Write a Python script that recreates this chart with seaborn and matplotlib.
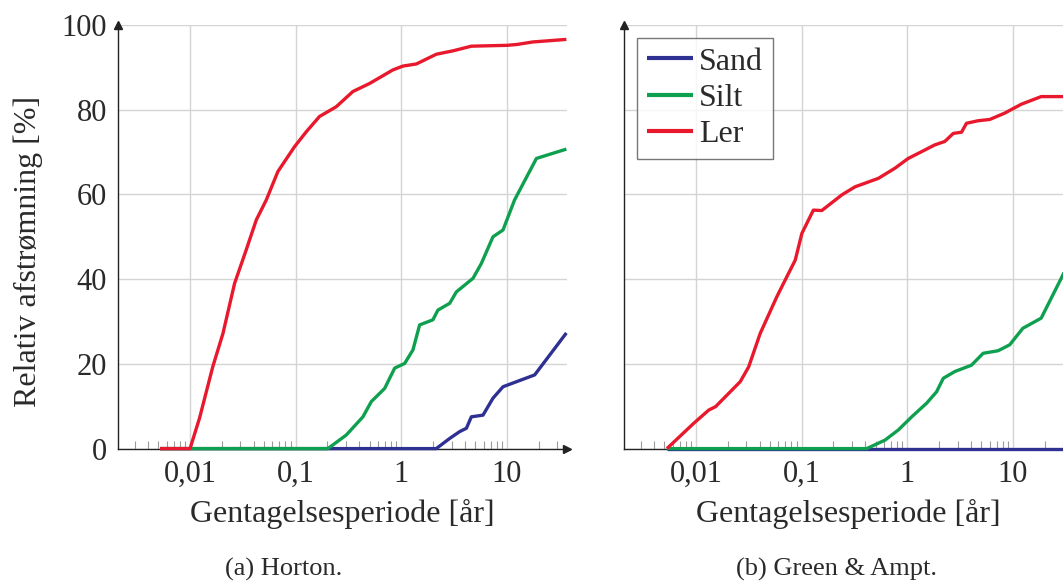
import numpy as np
import pandas as pd
import matplotlib
matplotlib.use('Agg')
import matplotlib.pyplot as plt
import matplotlib.ticker as mticker
import seaborn as sns

# ---------- data ----------
# (a) Horton
sand_x_h = [0.0052, 2.14, 2.87, 3.56, 4.13, 4.60, 5.93, 7.37, 9.17, 18.3, 36.5]
sand_y_h = [0, 0, 2.4, 4.0, 4.8, 7.5, 7.9, 11.9, 14.6, 17.4, 27.3]
silt_x_h = [0.0052, 0.2018, 0.301, 0.433, 0.520, 0.695, 0.865, 1.075, 1.288, 1.49,
            1.99, 2.22, 2.87, 3.32, 4.77, 5.72, 7.37, 9.17, 11.8, 19.0, 36.5]
silt_y_h = [0, 0, 3.2, 7.5, 11.1, 14.2, 19.0, 20.1, 23.3, 29.2,
            30.4, 32.7, 34.3, 37.0, 40.2, 43.7, 50.0, 51.6, 58.7, 68.5, 70.7]
ler_x_h = [0.0052, 0.0100, 0.0123, 0.0164, 0.0205, 0.0264, 0.0340, 0.0424, 0.0527,
           0.0678, 0.0977, 0.126, 0.168, 0.242, 0.348, 0.501, 0.832, 1.035, 1.387,
           2.145, 3.08, 4.60, 10.0, 12.4, 17.6, 36.5]
ler_y_h = [0, 0, 7.2, 19.3, 27.2, 39.0, 46.9, 54.0, 58.7,
           65.4, 71.3, 74.8, 78.4, 80.7, 84.3, 86.2, 89.4, 90.3, 90.8,
           93.1, 93.9, 95.0, 95.2, 95.4, 96.0, 96.6]

# (b) Green & Ampt
sand_x_g = [0.0053, 36.5]
sand_y_g = [0, 0]
silt_x_g = [0.0053, 0.413, 0.614, 0.822, 1.10, 1.52, 1.89, 2.19, 2.82, 4.05,
            5.22, 7.23, 9.31, 12.4, 18.5, 29.7, 36.5]
silt_y_g = [0, 0, 2.0, 4.4, 7.5, 10.7, 13.4, 16.6, 18.2, 19.7,
            22.5, 23.1, 24.5, 28.4, 30.8, 41.0, 46.0]
ler_x_g = [0.0053, 0.00953, 0.0132, 0.0153, 0.0262, 0.0315, 0.0405, 0.0583, 0.0752,
           0.0869, 0.1004, 0.129, 0.155, 0.240, 0.320, 0.532, 0.764, 1.02, 1.365,
           1.82, 2.26, 2.72, 3.26, 3.63, 4.68, 6.03, 8.35, 12.0, 18.5, 36.5]
ler_y_g = [0, 6.0, 9.1, 9.9, 15.8, 19.3, 27.2, 35.9, 41.4,
           44.5, 50.8, 56.3, 56.2, 59.9, 61.8, 63.8, 66.2, 68.5, 70.1,
           71.7, 72.5, 74.4, 74.7, 76.8, 77.4, 77.7, 79.2, 81.3, 83.1, 83.1]

jordtyper = ['Sand', 'Silt', 'Ler']
farver = {'Sand': '#2e3192', 'Silt': '#0fa04f', 'Ler': '#e8192c'}
xticks = [0.01, 0.1, 1, 10]
xticklabels = ['0,01', '0,1', '1', '10']
yticks = [0, 20, 40, 60, 80, 100]


def lav_df(serier):
    rows = []
    for navn, xs, ys in serier:
        for x, y in zip(xs, ys):
            rows.append({'jord': navn, 'periode': x, 'afstroemning': y})
    return pd.DataFrame(rows)


df_h = lav_df([('Sand', sand_x_h, sand_y_h), ('Silt', silt_x_h, silt_y_h), ('Ler', ler_x_h, ler_y_h)])
df_g = lav_df([('Sand', sand_x_g, sand_y_g), ('Silt', silt_x_g, silt_y_g), ('Ler', ler_x_g, ler_y_g)])

# ---------- style ----------
sns.set_style('white')
plt.rcParams['font.family'] = ['Liberation Serif', 'DejaVu Serif']

W, H = 1063, 584
fig = plt.figure(figsize=(W / 100, H / 100), dpi=100)
ax1 = fig.add_axes([118 / W, (H - 448.6) / H, 449 / W, 423.6 / H])
ax2 = fig.add_axes([624 / W, (H - 448.6) / H, 449 / W, 423.6 / H])

fs_tick = 22
fs_lab = 23
tekst = '#2a2a2a'

for ax, df, vis_legend in [(ax1, df_h, False), (ax2, df_g, True)]:
    sns.lineplot(data=df, x='periode', y='afstroemning', hue='jord', hue_order=jordtyper,
                 palette=farver, estimator=None, sort=False, linewidth=2.4,
                 legend=vis_legend, ax=ax)
    for ln in ax.lines:
        ln.set_clip_on(False)
        ln.set_zorder(3)
        ln.set_solid_capstyle('butt')
    ax.set_xscale('log')
    ax.set_xlim(0.00208, 37)
    ax.set_ylim(0, 100)
    ax.xaxis.set_major_locator(mticker.FixedLocator(xticks))
    ax.xaxis.set_major_formatter(mticker.FixedFormatter(xticklabels))
    ax.xaxis.set_minor_locator(mticker.LogLocator(base=10, subs=np.arange(2, 10), numticks=20))
    ax.xaxis.set_minor_formatter(mticker.NullFormatter())
    ax.set_yticks(yticks)
    ax.grid(True, which='major', color='#d4d4d4', linewidth=1.0)
    ax.tick_params(axis='x', which='major', direction='in', length=0, pad=8,
                   labelsize=fs_tick, labelcolor=tekst)
    ax.tick_params(axis='x', which='minor', direction='in', length=6, width=0.8,
                   color='#9a9a9a', bottom=True)
    ax.tick_params(axis='y', which='major', length=0, pad=8, labelsize=fs_tick, labelcolor=tekst)
    for s in ['top', 'right']:
        ax.spines[s].set_visible(False)
    for s in ['left', 'bottom']:
        ax.spines[s].set_color('#222222')
        ax.spines[s].set_linewidth(1.0)
    ax.set_xlabel('')
    ax.set_ylabel('')
    # pile paa akserne
    ax.plot(1, 0, marker='>', color='#222222', ms=6, transform=ax.transAxes, clip_on=False, zorder=4)
    ax.plot(0, 1, marker='^', color='#222222', ms=6, transform=ax.transAxes, clip_on=False, zorder=4)

ax2.tick_params(axis='y', labelleft=False)

handles, labels = ax2.get_legend_handles_labels()
leg = ax2.legend(handles, labels, loc='upper left', bbox_to_anchor=(0.029, 0.97),
                 borderaxespad=0, fontsize=fs_lab, frameon=True, fancybox=False,
                 handlelength=1.45, handletextpad=0.2, labelspacing=0.22, borderpad=0.3)
leg.get_frame().set_edgecolor('#555555')
leg.get_frame().set_linewidth(1.0)
for t in leg.get_texts():
    t.set_color(tekst)
for lh in leg.get_lines():
    lh.set_linewidth(3)

# aksetitler og undertekster
fig.text(28 / W, (H - 251) / H, 'Relativ afstrømning [%]', rotation=90, ha='center', va='center',
         fontsize=fs_lab, color=tekst)
fig.text(342 / W, (H - 514) / H, 'Gentagelsesperiode [år]', ha='center', va='center',
         fontsize=fs_lab, color=tekst)
fig.text(848 / W, (H - 514) / H, 'Gentagelsesperiode [år]', ha='center', va='center',
         fontsize=fs_lab, color=tekst)
fig.text(284 / W, (H - 569) / H, '(a) Horton.', ha='center', va='center', fontsize=19, color=tekst)
fig.text(837 / W, (H - 569) / H, '(b) Green & Ampt.', ha='center', va='center', fontsize=19, color=tekst)

fig.savefig('out.png', dpi=100)
